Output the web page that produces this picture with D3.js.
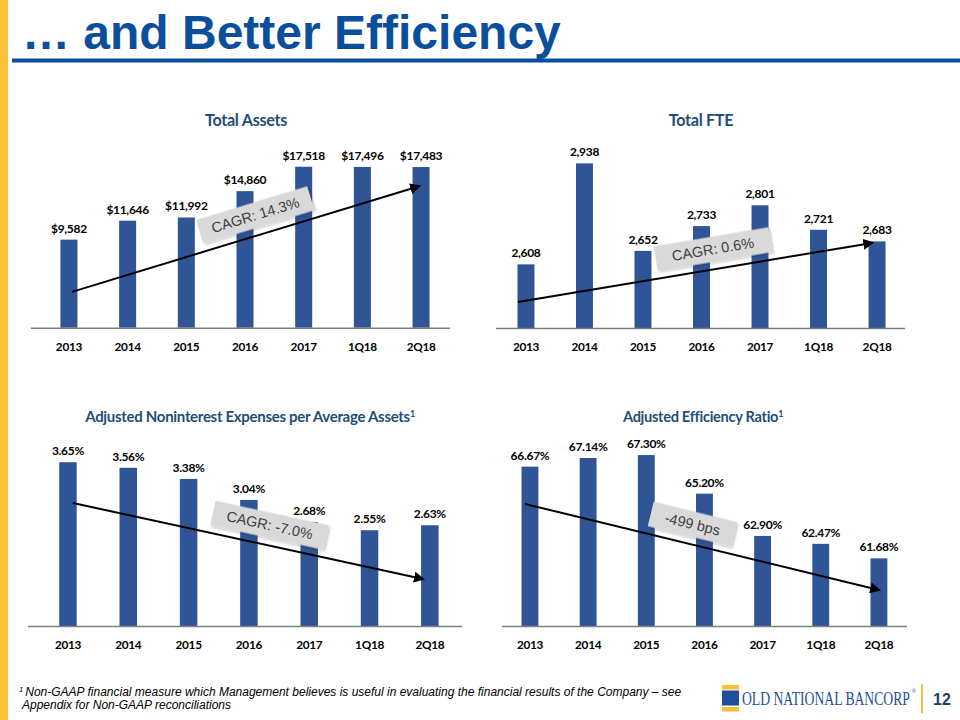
<!DOCTYPE html>
<html>
<head>
<meta charset="utf-8">
<script src="https://cdn.jsdelivr.net/npm/d3@7"></script>
<style>
  html, body { margin: 0; padding: 0; background: #ffffff; }
  svg { display: block; }
</style>
</head>
<body>
<svg id="chart" width="960" height="720"></svg>
<script>
// ---------------- DATA ----------------
const categories = ["2013", "2014", "2015", "2016", "2017", "1Q18", "2Q18"];
const totalAssets = [9582, 11646, 11992, 14860, 17518, 17496, 17483];
const totalFTE = [2608, 2938, 2652, 2733, 2801, 2721, 2683];
const nonintExpPerAssets = [3.65, 3.56, 3.38, 3.04, 2.68, 2.55, 2.63];
const efficiencyRatio = [66.67, 67.14, 67.30, 65.20, 62.90, 62.47, 61.68];

const chartTitles = ["Total Assets", "Total FTE", "Adjusted Noninterest Expenses per Average Assets", "Adjusted Efficiency Ratio"];
const titleFootnoteMarks = ["", "", "1", "1"];
const trendLabels = ["CAGR: 14.3%", "CAGR: 0.6%", "CAGR: -7.0%", "-499 bps"];
const trendStart = [3900, 2485, 2.99, 64.64];
const trendEnd = [15400, 2678, 1.76, 59.96];
const yDomains = [[0, 20000], [2400, 3000], [1, 4], [58, 68]];

const pageTitle = "\u2026 and Better Efficiency";
const footnoteLines = [
  "Non-GAAP financial measure which Management believes is useful in evaluating the financial results of the Company \u2013 see",
  "Appendix for Non-GAAP reconciliations"
];
const logoText = "OLD NATIONAL BANCORP";
const pageNumber = "12";

// ---------------- STYLE / LAYOUT ----------------
const BAR = "#2f5597";
const TITLE_BLUE = "#0b4f9c";
const CHART_TITLE = "#1f4e79";
const YELLOW = "#f9c235";
const LABEL_FONT = "Lato, 'Open Sans', sans-serif";

const fmts = [
  v => "$" + d3.format(",")(v),
  v => d3.format(",")(v),
  v => d3.format(".2f")(v) + "%",
  v => d3.format(".2f")(v) + "%"
];
const seriesList = [totalAssets, totalFTE, nonintExpPerAssets, efficiencyRatio];

const panels = [
  { band: [39.6, 450.4], base: 327.7, top: 143.9, axis: [31, 450], titleX: 246, titleY: 126, titleSize: 16.2, arrowDx: [3, -2], boxT: 0.545, boxW: 116, boxH: 25 },
  { band: [496.7, 906.3], base: 328, top: 144.4, axis: [496, 905], titleX: 701, titleY: 126, titleSize: 16.2, arrowDx: [-8, -5], boxT: 0.56, boxW: 116, boxH: 25 },
  { band: [37.8, 460], base: 626, top: 440.6, axis: [28, 462], titleX: 250, titleY: 422, titleSize: 15, arrowDx: [5, -7], boxT: 0.55, boxW: 116, boxH: 25 },
  { band: [500.9, 908], base: 626, top: 442.2, axis: [502, 907], titleX: 703, titleY: 422, titleSize: 14.6, arrowDx: [-5, 0], boxT: 0.46, boxW: 86, boxH: 25 }
];

const svg = d3.select("#chart");

// arrow marker
const defs = svg.append("defs");
defs.append("marker")
  .attr("id", "arrowhead")
  .attr("viewBox", "0 0 10 10")
  .attr("refX", 8).attr("refY", 5)
  .attr("markerWidth", 5.5).attr("markerHeight", 5.5)
  .attr("markerUnits", "strokeWidth")
  .attr("orient", "auto")
  .append("path")
  .attr("d", "M0,0 L10,5 L0,10 Z")
  .attr("fill", "#000");

const shadow = defs.append("filter").attr("id", "boxShadow")
  .attr("x", "-20%").attr("y", "-40%").attr("width", "140%").attr("height", "180%");
shadow.append("feDropShadow").attr("dx", 1.5).attr("dy", 1.5).attr("stdDeviation", 1)
  .attr("flood-color", "#000").attr("flood-opacity", 0.25);

// ---------------- PAGE FRAME ----------------
svg.append("rect").attr("x", 0).attr("y", 0).attr("width", 8).attr("height", 720).attr("fill", YELLOW);

svg.append("text")
  .attr("x", 22).attr("y", 49)
  .attr("font-family", "'Liberation Sans', Arial, sans-serif")
  .attr("font-weight", "bold")
  .attr("font-size", 48)
  .attr("fill", TITLE_BLUE)
  .text(pageTitle);

svg.append("rect").attr("x", 12).attr("y", 58.5).attr("width", 948).attr("height", 4).attr("fill", TITLE_BLUE);

// ---------------- CHARTS ----------------
panels.forEach((p, i) => {
  const data = seriesList[i];
  const g = svg.append("g");
  const x = d3.scaleBand().domain(categories).range(p.band).paddingInner(0.71).paddingOuter(0.355);
  const y = d3.scaleLinear().domain(yDomains[i]).range([p.base, p.top]);

  // title
  const t = g.append("text")
    .attr("x", p.titleX).attr("y", p.titleY)
    .attr("text-anchor", "middle")
    .attr("font-family", LABEL_FONT)
    .attr("font-weight", "bold")
    .attr("font-size", p.titleSize)
    .attr("letter-spacing", -0.3)
    .attr("fill", CHART_TITLE)
    .text(chartTitles[i]);
  if (titleFootnoteMarks[i]) {
    t.append("tspan").attr("dy", -5).attr("font-size", 9).text(titleFootnoteMarks[i]);
  }

  // bars
  g.selectAll("rect.bar").data(data).join("rect")
    .attr("class", "bar")
    .attr("x", (d, j) => x(categories[j]))
    .attr("width", x.bandwidth())
    .attr("y", d => y(d))
    .attr("height", d => p.base - y(d))
    .attr("fill", BAR);

  // value labels
  g.selectAll("text.val").data(data).join("text")
    .attr("class", "val")
    .attr("x", (d, j) => x(categories[j]) + x.bandwidth() / 2)
    .attr("y", d => y(d) - 7)
    .attr("text-anchor", "middle")
    .attr("font-family", LABEL_FONT)
    .attr("font-weight", "bold")
    .attr("font-size", 12)
    .attr("letter-spacing", -0.3)
    .attr("fill", "#000")
    .text(d => fmts[i](d));

  // baseline axis
  const axisG = g.append("g").attr("transform", `translate(0,${p.base})`);
  const axis = d3.axisBottom(x).tickSize(0).tickPadding(0);
  axisG.call(axis);
  axisG.select(".domain").remove();
  axisG.selectAll("text")
    .attr("dy", null)
    .attr("y", 23)
    .attr("font-family", LABEL_FONT)
    .attr("font-weight", "bold")
    .attr("font-size", 11.8)
    .attr("letter-spacing", -0.3)
    .attr("fill", "#000");
  g.append("line")
    .attr("x1", p.axis[0]).attr("x2", p.axis[1])
    .attr("y1", p.base + 0.5).attr("y2", p.base + 0.5)
    .attr("stroke", "#7f7f7f").attr("stroke-width", 1.5);

  // trend arrow
  const x0 = x(categories[0]) + x.bandwidth() / 2 + p.arrowDx[0];
  const x1 = x(categories[categories.length - 1]) + x.bandwidth() / 2 + p.arrowDx[1];
  const y0 = y(trendStart[i]);
  const y1 = y(trendEnd[i]);

  // label box
  const dx = x1 - x0, dy = y1 - y0, L = Math.hypot(dx, dy);
  const ux = dx / L, uy = dy / L;
  const nx = uy, ny = -ux; // upward normal
  const cx = x0 + dx * p.boxT + nx * 20;
  const cy = y0 + dy * p.boxT + ny * 20;
  const ang = Math.atan2(dy, dx) * 180 / Math.PI;
  const bg = g.append("g").attr("transform", `translate(${cx},${cy}) rotate(${ang})`);
  bg.append("rect")
    .attr("x", -p.boxW / 2).attr("y", -p.boxH / 2)
    .attr("width", p.boxW).attr("height", p.boxH)
    .attr("fill", "#d9d9d9")
    .attr("filter", "url(#boxShadow)");
  bg.append("text")
    .attr("x", 0).attr("y", 5)
    .attr("text-anchor", "middle")
    .attr("font-family", "'Liberation Sans', Arial, sans-serif")
    .attr("font-size", 14.5)
    .attr("fill", "#404040")
    .text(trendLabels[i]);

  g.append("line")
    .attr("x1", x0).attr("y1", y0).attr("x2", x1).attr("y2", y1)
    .attr("stroke", "#000").attr("stroke-width", 2)
    .attr("marker-end", "url(#arrowhead)");
});

// ---------------- FOOTER ----------------
const foot = svg.append("text")
  .attr("font-family", "'Liberation Sans', Arial, sans-serif")
  .attr("font-style", "italic")
  .attr("font-size", 12)
  .attr("fill", "#000");
foot.append("tspan").attr("x", 19).attr("y", 692).attr("font-size", 7.5).text("1 ");
foot.append("tspan").attr("y", 696).attr("font-size", 12).text(footnoteLines[0]);
foot.append("tspan").attr("x", 22).attr("y", 709).text(footnoteLines[1]);

// logo
svg.append("rect").attr("x", 722).attr("y", 685).attr("width", 17).attr("height", 4.5).attr("fill", YELLOW);
svg.append("rect").attr("x", 722).attr("y", 690.5).attr("width", 17).attr("height", 15).attr("fill", "#1f4e9a");
svg.append("rect").attr("x", 722).attr("y", 707).attr("width", 17).attr("height", 4.5).attr("fill", YELLOW);
const logo = svg.append("text")
  .attr("font-family", "'Liberation Serif', 'DejaVu Serif', serif")
  .attr("font-size", 18)
  .attr("fill", "#1f4e9a")
  .text(logoText);
const natural = logo.node().getComputedTextLength();
logo.attr("transform", `translate(742,705) scale(${168 / natural},1)`);
svg.append("text").attr("x", 912).attr("y", 693).attr("font-size", 5)
  .attr("font-family", "'Liberation Sans', Arial, sans-serif").attr("fill", "#1f4e9a").text("\u00ae");
svg.append("rect").attr("x", 921).attr("y", 684).attr("width", 2).attr("height", 29).attr("fill", YELLOW);
svg.append("text")
  .attr("x", 933).attr("y", 705)
  .attr("font-family", "'Liberation Sans', Arial, sans-serif")
  .attr("font-weight", "bold")
  .attr("font-size", 16)
  .attr("fill", "#1f3e6e")
  .text(pageNumber);
</script>
</body>
</html>
